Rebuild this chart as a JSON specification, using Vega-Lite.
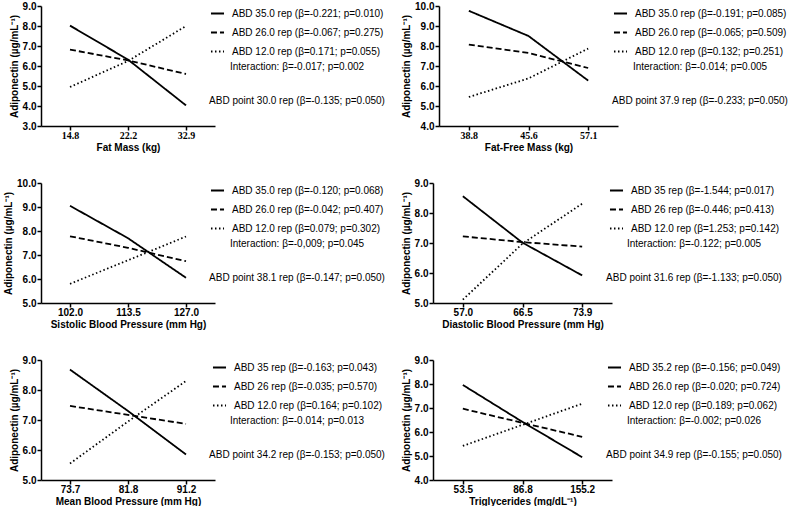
{
  "$schema": "https://vega.github.io/schema/vega-lite/v6.json",
  "padding": {"left": 3, "top": 1, "right": 0, "bottom": 0},
  "background": "white",
  "config": {
    "font": "Liberation Sans",
    "view": {"stroke": null},
    "axis": {"grid": false, "domainColor": "black", "domainWidth": 1.5, "tickColor": "black", "tickWidth": 1.5, "tickSize": 4, "labelColor": "black", "labelFont": "Liberation Sans", "labelFontSize": 10, "labelFontWeight": "bold", "titleColor": "black", "titleFont": "Liberation Sans", "titleFontSize": 10, "titleFontWeight": "bold", "labelPadding": 1},
    "axisX": {"labelAngle": 0, "titlePadding": 2, "labelPadding": 0},
    "axisY": {"titlePadding": 3},
    "legend": {"orient": "right", "offset": -6, "padding": 0, "symbolType": "stroke", "symbolSize": 170, "symbolStrokeWidth": 1.8, "symbolStrokeColor": "black", "labelFont": "Liberation Sans", "labelFontSize": 10, "labelColor": "black", "labelLimit": 300, "labelOffset": 7, "rowPadding": 6, "titleOrient": "bottom", "titleFont": "Liberation Sans", "titleFontSize": 10, "titleFontWeight": "normal", "titleColor": "black", "titleAnchor": "middle", "titleAlign": "center", "titleLineHeight": 34, "titlePadding": 5, "titleLimit": 300}
  },
  "data": {"values": [
    {"p": 1, "s": "ABD 35.0 rep (β=-0.221; p=0.010)", "x": 14.8, "y": 8.02},
    {"p": 1, "s": "ABD 35.0 rep (β=-0.221; p=0.010)", "x": 22.2, "y": 6.32},
    {"p": 1, "s": "ABD 35.0 rep (β=-0.221; p=0.010)", "x": 32.9, "y": 4.03},
    {"p": 1, "s": "ABD 26.0 rep (β=-0.067; p=0.275)", "x": 14.8, "y": 6.82},
    {"p": 1, "s": "ABD 26.0 rep (β=-0.067; p=0.275)", "x": 22.2, "y": 6.28},
    {"p": 1, "s": "ABD 26.0 rep (β=-0.067; p=0.275)", "x": 32.9, "y": 5.6},
    {"p": 1, "s": "ABD 12.0 rep (β=0.171; p=0.055)", "x": 14.8, "y": 4.95},
    {"p": 1, "s": "ABD 12.0 rep (β=0.171; p=0.055)", "x": 22.2, "y": 6.25},
    {"p": 1, "s": "ABD 12.0 rep (β=0.171; p=0.055)", "x": 32.9, "y": 8.0},
    {"p": 2, "s": "ABD 35.0 rep (β=-0.191; p=0.085)", "x": 38.8, "y": 9.76},
    {"p": 2, "s": "ABD 35.0 rep (β=-0.191; p=0.085)", "x": 45.6, "y": 8.5},
    {"p": 2, "s": "ABD 35.0 rep (β=-0.191; p=0.085)", "x": 57.1, "y": 6.27},
    {"p": 2, "s": "ABD 26.0 rep (β=-0.065; p=0.509)", "x": 38.8, "y": 8.07},
    {"p": 2, "s": "ABD 26.0 rep (β=-0.065; p=0.509)", "x": 45.6, "y": 7.65},
    {"p": 2, "s": "ABD 26.0 rep (β=-0.065; p=0.509)", "x": 57.1, "y": 6.9},
    {"p": 2, "s": "ABD 12.0 rep (β=0.132; p=0.251)", "x": 38.8, "y": 5.45},
    {"p": 2, "s": "ABD 12.0 rep (β=0.132; p=0.251)", "x": 45.6, "y": 6.38},
    {"p": 2, "s": "ABD 12.0 rep (β=0.132; p=0.251)", "x": 57.1, "y": 7.87},
    {"p": 3, "s": "ABD 35.0 rep (β=-0.120; p=0.068)", "x": 102.0, "y": 9.05},
    {"p": 3, "s": "ABD 35.0 rep (β=-0.120; p=0.068)", "x": 113.5, "y": 7.7},
    {"p": 3, "s": "ABD 35.0 rep (β=-0.120; p=0.068)", "x": 127.0, "y": 6.05},
    {"p": 3, "s": "ABD 26.0 rep (β=-0.042; p=0.407)", "x": 102.0, "y": 7.78},
    {"p": 3, "s": "ABD 26.0 rep (β=-0.042; p=0.407)", "x": 113.5, "y": 7.3},
    {"p": 3, "s": "ABD 26.0 rep (β=-0.042; p=0.407)", "x": 127.0, "y": 6.74},
    {"p": 3, "s": "ABD 12.0 rep (β=0.079; p=0.302)", "x": 102.0, "y": 5.8},
    {"p": 3, "s": "ABD 12.0 rep (β=0.079; p=0.302)", "x": 113.5, "y": 6.78},
    {"p": 3, "s": "ABD 12.0 rep (β=0.079; p=0.302)", "x": 127.0, "y": 7.77},
    {"p": 4, "s": "ABD 35 rep (β=-1.544; p=0.017)", "x": 57.0, "y": 8.56},
    {"p": 4, "s": "ABD 35 rep (β=-1.544; p=0.017)", "x": 66.5, "y": 7.01},
    {"p": 4, "s": "ABD 35 rep (β=-1.544; p=0.017)", "x": 73.9, "y": 5.92},
    {"p": 4, "s": "ABD 26 rep (β=-0.446; p=0.413)", "x": 57.0, "y": 7.22},
    {"p": 4, "s": "ABD 26 rep (β=-0.446; p=0.413)", "x": 66.5, "y": 7.03},
    {"p": 4, "s": "ABD 26 rep (β=-0.446; p=0.413)", "x": 73.9, "y": 6.88},
    {"p": 4, "s": "ABD 12.0 rep (β=1.253; p=0.142)", "x": 57.0, "y": 5.11},
    {"p": 4, "s": "ABD 12.0 rep (β=1.253; p=0.142)", "x": 66.5, "y": 6.98},
    {"p": 4, "s": "ABD 12.0 rep (β=1.253; p=0.142)", "x": 73.9, "y": 8.31},
    {"p": 5, "s": "ABD 35 rep (β=-0.163; p=0.043)", "x": 73.7, "y": 8.68},
    {"p": 5, "s": "ABD 35 rep (β=-0.163; p=0.043)", "x": 81.8, "y": 7.3},
    {"p": 5, "s": "ABD 35 rep (β=-0.163; p=0.043)", "x": 91.2, "y": 5.85},
    {"p": 5, "s": "ABD 26 rep (β=-0.035; p=0.570)", "x": 73.7, "y": 7.47},
    {"p": 5, "s": "ABD 26 rep (β=-0.035; p=0.570)", "x": 81.8, "y": 7.17},
    {"p": 5, "s": "ABD 26 rep (β=-0.035; p=0.570)", "x": 91.2, "y": 6.87},
    {"p": 5, "s": "ABD 12.0 rep (β=0.164; p=0.102)", "x": 73.7, "y": 5.55},
    {"p": 5, "s": "ABD 12.0 rep (β=0.164; p=0.102)", "x": 81.8, "y": 6.95},
    {"p": 5, "s": "ABD 12.0 rep (β=0.164; p=0.102)", "x": 91.2, "y": 8.3},
    {"p": 6, "s": "ABD 35.2 rep (β=-0.156; p=0.049)", "x": 53.5, "y": 7.96},
    {"p": 6, "s": "ABD 35.2 rep (β=-0.156; p=0.049)", "x": 86.8, "y": 6.42},
    {"p": 6, "s": "ABD 35.2 rep (β=-0.156; p=0.049)", "x": 155.2, "y": 4.95},
    {"p": 6, "s": "ABD 26.0 rep (β=-0.020; p=0.724)", "x": 53.5, "y": 6.97},
    {"p": 6, "s": "ABD 26.0 rep (β=-0.020; p=0.724)", "x": 86.8, "y": 6.38},
    {"p": 6, "s": "ABD 26.0 rep (β=-0.020; p=0.724)", "x": 155.2, "y": 5.8},
    {"p": 6, "s": "ABD 12.0 rep (β=0.189; p=0.062)", "x": 53.5, "y": 5.42},
    {"p": 6, "s": "ABD 12.0 rep (β=0.189; p=0.062)", "x": 86.8, "y": 6.3},
    {"p": 6, "s": "ABD 12.0 rep (β=0.189; p=0.062)", "x": 155.2, "y": 7.18}
  ]},
  "spacing": 26,
  "resolve": {"scale": {"x": "independent", "y": "independent", "strokeDash": "independent"}, "legend": {"strokeDash": "independent"}},
  "vconcat": [
    {
      "spacing": 16,
      "resolve": {"scale": {"x": "independent", "y": "independent", "strokeDash": "independent"}, "legend": {"strokeDash": "independent"}},
      "hconcat": [
        {
          "width": 174, "height": 120,
          "transform": [{"filter": "datum.p == 1"}],
          "mark": {"type": "line", "color": "black", "strokeWidth": 1.8},
          "encoding": {
            "x": {"field": "x", "type": "ordinal", "title": "Fat Mass (kg)", "axis": {"format": ".1f", "formatType": "number", "labelFont": "Liberation Serif"}},
            "y": {"field": "y", "type": "quantitative", "scale": {"domain": [3, 9], "nice": false, "zero": false}, "axis": {"values": [3, 4, 5, 6, 7, 8, 9], "format": ".1f", "title": "Adiponectin (µg/mL⁻¹)"}},
            "strokeDash": {"field": "s", "type": "nominal", "scale": {"domain": ["ABD 35.0 rep (β=-0.221; p=0.010)", "ABD 26.0 rep (β=-0.067; p=0.275)", "ABD 12.0 rep (β=0.171; p=0.055)"], "range": [[1, 0], [6, 3], [1.5, 2.5]]}, "legend": {"title": ["Interaction: β=-0.017; p=0.002", "ABD point 30.0 rep (β=-0.135; p=0.050)"]}}
          }
        },
        {
          "width": 179, "height": 120,
          "transform": [{"filter": "datum.p == 2"}],
          "mark": {"type": "line", "color": "black", "strokeWidth": 1.8},
          "encoding": {
            "x": {"field": "x", "type": "ordinal", "title": "Fat-Free Mass (kg)", "axis": {"format": ".1f", "formatType": "number", "labelFont": "Liberation Serif"}},
            "y": {"field": "y", "type": "quantitative", "scale": {"domain": [4, 10], "nice": false, "zero": false}, "axis": {"values": [4, 5, 6, 7, 8, 9, 10], "format": ".1f", "title": "Adiponectin (µg/mL⁻¹)"}},
            "strokeDash": {"field": "s", "type": "nominal", "scale": {"domain": ["ABD 35.0 rep (β=-0.191; p=0.085)", "ABD 26.0 rep (β=-0.065; p=0.509)", "ABD 12.0 rep (β=0.132; p=0.251)"], "range": [[1, 0], [6, 3], [1.5, 2.5]]}, "legend": {"title": ["Interaction: β=-0.014; p=0.005", "ABD point 37.9 rep (β=-0.233; p=0.050)"]}}
          }
        }
      ]
    },
    {
      "spacing": 16,
      "resolve": {"scale": {"x": "independent", "y": "independent", "strokeDash": "independent"}, "legend": {"strokeDash": "independent"}},
      "hconcat": [
        {
          "width": 174, "height": 120,
          "transform": [{"filter": "datum.p == 3"}],
          "mark": {"type": "line", "color": "black", "strokeWidth": 1.8},
          "encoding": {
            "x": {"field": "x", "type": "ordinal", "title": "Sistolic Blood Pressure (mm Hg)", "axis": {"format": ".1f", "formatType": "number"}},
            "y": {"field": "y", "type": "quantitative", "scale": {"domain": [5, 10], "nice": false, "zero": false}, "axis": {"values": [5, 6, 7, 8, 9, 10], "format": ".1f", "title": "Adiponectin (µg/mL⁻¹)"}},
            "strokeDash": {"field": "s", "type": "nominal", "scale": {"domain": ["ABD 35.0 rep (β=-0.120; p=0.068)", "ABD 26.0 rep (β=-0.042; p=0.407)", "ABD 12.0 rep (β=0.079; p=0.302)"], "range": [[1, 0], [6, 3], [1.5, 2.5]]}, "legend": {"title": ["Interaction: β=-0,009; p=0.045", "ABD point 38.1 rep (β=-0.147; p=0.050)"]}}
          }
        },
        {
          "width": 179, "height": 120,
          "transform": [{"filter": "datum.p == 4"}],
          "mark": {"type": "line", "color": "black", "strokeWidth": 1.8},
          "encoding": {
            "x": {"field": "x", "type": "ordinal", "title": "Diastolic Blood Pressure (mm Hg)", "axis": {"format": ".1f", "formatType": "number"}},
            "y": {"field": "y", "type": "quantitative", "scale": {"domain": [5, 9], "nice": false, "zero": false}, "axis": {"values": [5, 6, 7, 8, 9], "format": ".1f", "title": "Adiponectin (µg/mL⁻¹)"}},
            "strokeDash": {"field": "s", "type": "nominal", "scale": {"domain": ["ABD 35 rep (β=-1.544; p=0.017)", "ABD 26 rep (β=-0.446; p=0.413)", "ABD 12.0 rep (β=1.253; p=0.142)"], "range": [[1, 0], [6, 3], [1.5, 2.5]]}, "legend": {"title": ["Interaction: β=-0.122; p=0.005", "ABD point 31.6 rep (β=-1.133; p=0.050)"]}}
          }
        }
      ]
    },
    {
      "spacing": 16,
      "resolve": {"scale": {"x": "independent", "y": "independent", "strokeDash": "independent"}, "legend": {"strokeDash": "independent"}},
      "hconcat": [
        {
          "width": 174, "height": 120,
          "transform": [{"filter": "datum.p == 5"}],
          "mark": {"type": "line", "color": "black", "strokeWidth": 1.8},
          "encoding": {
            "x": {"field": "x", "type": "ordinal", "title": "Mean Blood Pressure (mm Hg)", "axis": {"format": ".1f", "formatType": "number"}},
            "y": {"field": "y", "type": "quantitative", "scale": {"domain": [5, 9], "nice": false, "zero": false}, "axis": {"values": [5, 6, 7, 8, 9], "format": ".1f", "title": "Adiponectin (µg/mL⁻¹)"}},
            "strokeDash": {"field": "s", "type": "nominal", "scale": {"domain": ["ABD 35 rep (β=-0.163; p=0.043)", "ABD 26 rep (β=-0.035; p=0.570)", "ABD 12.0 rep (β=0.164; p=0.102)"], "range": [[1, 0], [6, 3], [1.5, 2.5]]}, "legend": {"title": ["Interaction: β=-0.014; p=0.013", "ABD point 34.2 rep (β=-0.153; p=0.050)"]}}
          }
        },
        {
          "width": 179, "height": 120,
          "transform": [{"filter": "datum.p == 6"}],
          "mark": {"type": "line", "color": "black", "strokeWidth": 1.8},
          "encoding": {
            "x": {"field": "x", "type": "ordinal", "title": "Triglycerides (mg/dL⁻¹)", "axis": {"format": ".1f", "formatType": "number"}},
            "y": {"field": "y", "type": "quantitative", "scale": {"domain": [4, 9], "nice": false, "zero": false}, "axis": {"values": [4, 5, 6, 7, 8, 9], "format": ".1f", "title": "Adiponectin (µg/mL⁻¹)"}},
            "strokeDash": {"field": "s", "type": "nominal", "scale": {"domain": ["ABD 35.2 rep (β=-0.156; p=0.049)", "ABD 26.0 rep (β=-0.020; p=0.724)", "ABD 12.0 rep (β=0.189; p=0.062)"], "range": [[1, 0], [6, 3], [1.5, 2.5]]}, "legend": {"title": ["Interaction: β=-0.002; p=0.026", "ABD point 34.9 rep (β=-0.155; p=0.050)"]}}
          }
        }
      ]
    }
  ]
}
